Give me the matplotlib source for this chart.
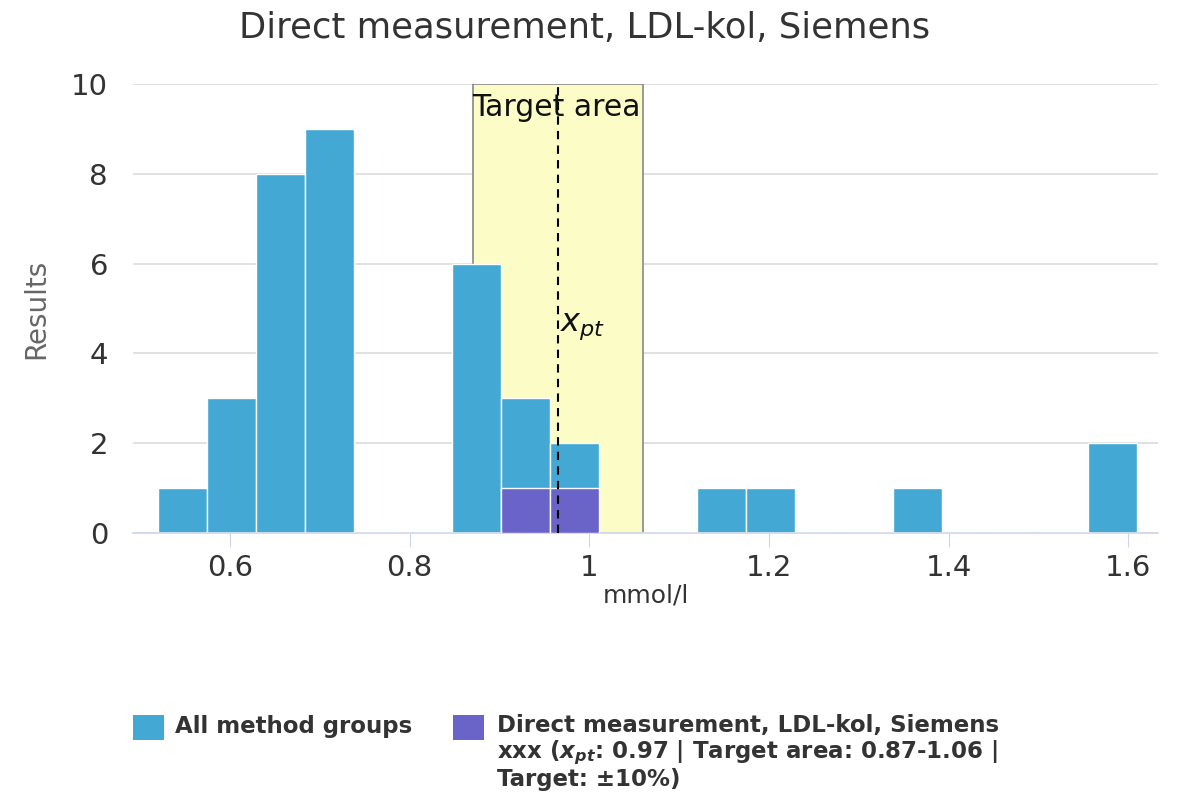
import matplotlib
matplotlib.use("Agg")
import matplotlib.pyplot as plt
from matplotlib.patches import Rectangle
import numpy as np

plt.rcParams["font.family"] = ["DejaVu Sans"]
plt.rcParams["mathtext.fontset"] = "dejavusans"

# ---- data ----
bin_start = 0.52
bin_end = 1.61
n_bins = 20
all_counts = [1, 3, 8, 9, 0, 0, 6, 3, 2, 0, 0, 1, 1, 0, 0, 1, 0, 0, 0, 2]
group_counts = [0, 0, 0, 0, 0, 0, 0, 1, 1, 0, 0, 0, 0, 0, 0, 0, 0, 0, 0, 0]
x_pt = 0.965
target_low = 0.87
target_high = 1.06
x_ticks = [0.6, 0.8, 1.0, 1.2, 1.4, 1.6]
x_tick_labels = ["0.6", "0.8", "1", "1.2", "1.4", "1.6"]
y_ticks = [0, 2, 4, 6, 8, 10]

title = "Direct measurement, LDL-kol, Siemens"
legend1 = "All method groups"
legend2 = ("Direct measurement, LDL-kol, Siemens\n"
           "xxx ($\\mathbfit{x}_{\\mathbfit{pt}}$: 0.97 | Target area: 0.87-1.06 |\n"
           "Target: ±10%)")

c_all = "#43a8d4"
c_grp = "#6a63c8"

fig = plt.figure(figsize=(11.85, 8.11), dpi=100)
ax = fig.add_axes([133/1185, 1-533/811, (1158-133)/1185, (533-84)/811])

edges = np.linspace(bin_start, bin_end, n_bins + 1)
width = edges[1] - edges[0]

# target area
ax.add_patch(Rectangle((target_low, 0), target_high - target_low, 10,
                       facecolor="#fbfcc6", edgecolor="#888888", lw=1.2, zorder=1))

ax.bar(edges[:-1], all_counts, width=width, align="edge", color=c_all,
       edgecolor="white", linewidth=1, zorder=2)
ax.bar(edges[:-1], group_counts, width=width, align="edge", color=c_grp,
       edgecolor="white", linewidth=1, zorder=3)

ax.axvline(x_pt, ymin=0, ymax=1, color="black", ls=(0, (4, 3)), lw=1.5, zorder=4)
ax.text(target_low + 0.0, 9.8, "Target area", fontsize=21.5, color="#111111",
        va="top", ha="left", zorder=5)
ax.text(x_pt + 0.002, 4.6, "$x_{pt}$", fontsize=23, color="#111111",
        va="center", ha="left", zorder=5)

ax.set_xlim(0.492, 1.633)
ax.set_ylim(0, 10)
ax.set_yticks(y_ticks)
ax.set_xticks(x_ticks)
ax.set_xticklabels(x_tick_labels)
ax.tick_params(axis="y", length=0, labelsize=21, labelcolor="#333333", pad=18)
ax.tick_params(axis="x", length=10, color="#ccd6eb", labelsize=21,
               labelcolor="#333333", pad=5)
ax.grid(axis="y", color="#dcdcdc", lw=1.2, zorder=0)
ax.set_axisbelow(True)
for s in ["top", "right", "left"]:
    ax.spines[s].set_visible(False)
ax.spines["bottom"].set_color("#ccd6eb")
ax.spines["bottom"].set_linewidth(1.2)

ax.set_xlabel("mmol/l", fontsize=18, color="#333333", labelpad=1)
ax.set_ylabel("Results", fontsize=20, color="#666666", labelpad=15)
fig.text(585/1185, 1-28/811, title, fontsize=25.5, color="#333333",
         ha="center", va="center")

# legend (manual)
fig.patches.append(Rectangle((133/1185, 1-740/811), 31/1185, 25/811,
                             transform=fig.transFigure, facecolor=c_all,
                             edgecolor="none"))
fig.text(175/1185, 1-727/811, legend1, fontsize=16.5, fontweight="bold",
         color="#333333", ha="left", va="center")
fig.patches.append(Rectangle((453/1185, 1-740/811), 31/1185, 25/811,
                             transform=fig.transFigure, facecolor=c_grp,
                             edgecolor="none"))
fig.text(497/1185, 1-714/811, legend2, fontsize=16.5, fontweight="bold",
         color="#333333", ha="left", va="top", linespacing=1.06)

fig.savefig("out.png", dpi=100, facecolor="white")
